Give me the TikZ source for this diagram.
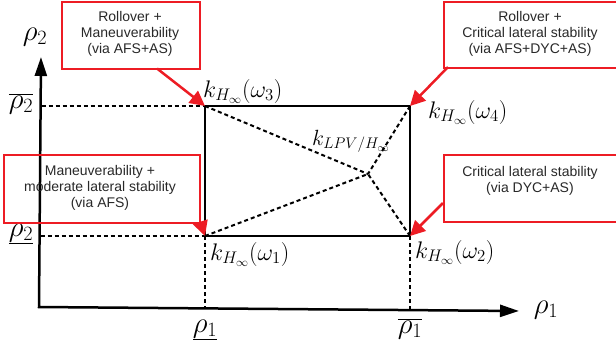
\RequirePackage{fix-cm}
\documentclass[tikz,border=0pt]{standalone}
\usepackage{fontspec}
\newfontfamily\boxfont{Liberation Sans}
\usetikzlibrary{arrows.meta}
\definecolor{boxred}{RGB}{237,28,36}
\definecolor{boxtext}{RGB}{40,40,40}
\tikzset{
  axisline/.style={line width=2.5pt, {Triangle[length=19pt,width=12pt]}-{Triangle[length=19pt,width=12pt]}},
  frame/.style={line width=2.5pt},
  guide/.style={line width=2pt, dash pattern=on 4pt off 3pt},
  redbox/.style={draw=boxred, line width=2pt, inner sep=0pt, anchor=north west},
  boxtxt/.style={font=\boxfont\fontsize{14}{16}\selectfont, text=boxtext, align=center, inner sep=0pt},
  redarrow/.style={draw=boxred, line width=2.5pt, -{Triangle[length=15pt,width=15pt]}},
  klabel/.style={font=\fontsize{24}{28}\selectfont, inner sep=0pt, anchor=base west},
  rlabel/.style={font=\fontsize{29}{32}\selectfont, inner sep=0pt}
}
\begin{document}
\begin{tikzpicture}[x=1pt,y=-1pt]
\useasboundingbox (0,0) rectangle (616,349);
\clip (0,0) rectangle (616,349);

% key points
\coordinate (O) at (39,307);
\coordinate (Y) at (41,57);
\coordinate (X) at (519,311);
\coordinate (w1) at (205,236);
\coordinate (w2) at (410,236);
\coordinate (w3) at (205,106);
\coordinate (w4) at (410,106);
\coordinate (c) at (368,174);
\coordinate (a3) at (41.5,106);
\coordinate (a1) at (40.5,236);
\coordinate (b1) at (205,308.5);
\coordinate (b2) at (410,309.8);

% dashed guides
\draw[guide] (a3) -- (w3);
\draw[guide] (a1) -- (w1);
\draw[guide] (w1) -- (b1);
\draw[guide] (w2) -- (b2);
\draw[guide] (w1) -- (c);
\draw[guide] (w2) -- (c);
\draw[guide] (w3) -- (c);
\draw[guide] (w4) -- (c);

% frame
\draw[frame] (w1) -- (w2) -- (w4) -- (w3) -- cycle;

% axes
\draw[axisline] (Y) -- (O) -- (X);

% axis labels
\node[rlabel] (ry) at (35,37) {$\rho_2$};
\node[rlabel] (r2bar) at (21,104) {$\overline{\rho_2}$};
\node[rlabel] (r2low) at (21,234) {$\underline{\rho_2}$};
\node[rlabel] (r1low) at (205,330) {$\underline{\rho_1}$};
\node[rlabel] (r1bar) at (410,329) {$\overline{\rho_1}$};
\node[rlabel] (rx) at (546,310) {$\rho_1$};

% controller labels
\node[klabel] (k3) at (203,97) {$k_{H_\infty}(\omega_3)$};
\node[klabel] (k4) at (428,118) {$k_{H_\infty}(\omega_4)$};
\node[klabel] (k1) at (210,260) {$k_{H_\infty}(\omega_1)$};
\node[klabel] (k2) at (415,258) {$k_{H_\infty}(\omega_2)$};
\node[klabel, font=\fontsize{22}{26}\selectfont] (klpv) at (312,145) {$k_{LPV/H_\infty}$};

% red boxes
\node[redbox, minimum width=138pt, minimum height=67pt] (bx1) at (61,1) {};
\node[redbox, minimum width=200pt, minimum height=66pt] (bx2) at (443,1) {};
\node[redbox, minimum width=196pt, minimum height=68pt] (bx3) at (3,154) {};
\node[redbox, minimum width=200pt, minimum height=67pt] (bx4) at (443,154) {};

\node[boxtxt] (t1) at (130,34) {Rollover +\\Maneuverability\\(via AFS+AS)};
\node[boxtxt] (t2) at (530,34) {Rollover +\\Critical lateral stability\\(via AFS+DYC+AS)};
\node[boxtxt] (t3) at (100,188) {Maneuverability +\\moderate lateral stability\\(via AFS)};
\node[boxtxt] (t4) at (530,180.5) {Critical lateral stability\\(via DYC+AS)};

% red arrows
\coordinate (s1) at (157,68.5);
\coordinate (s2) at (448,67);
\coordinate (s4) at (443,203);
\draw[redarrow] (s1) -- (w3);
\draw[redarrow] (s2) -- (w4);
\draw[redarrow] (bx3.south east) -- (w1);
\draw[redarrow] (s4) -- (w2);
\end{tikzpicture}
\end{document}
